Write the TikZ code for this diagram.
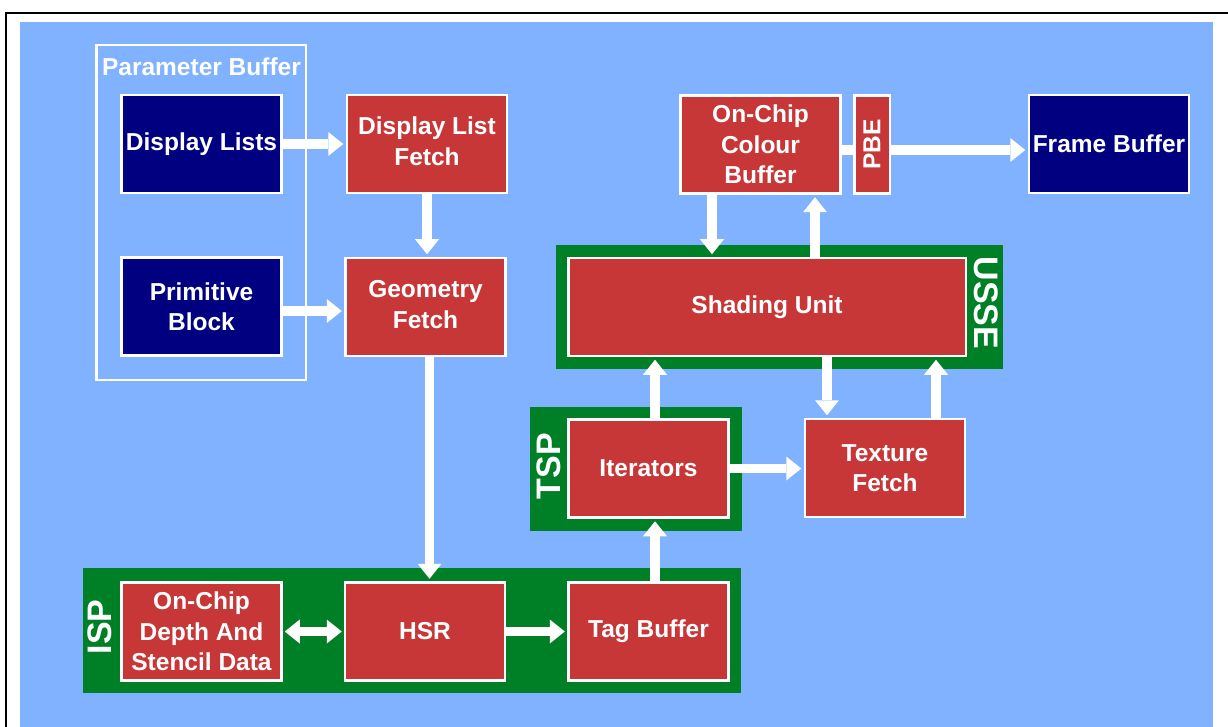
\documentclass[tikz,border=0pt]{standalone}
\usepackage{fontspec}
\usepackage{graphicx}
\setmainfont{Liberation Sans}
\usetikzlibrary{arrows.meta}
\definecolor{sky}{HTML}{80B2FF}
\definecolor{brick}{HTML}{C83737}
\definecolor{navyblk}{HTML}{000080}
\definecolor{leaf}{HTML}{008026}

\begin{document}
\begin{tikzpicture}[x=1pt,y=-1pt,
  lbl/.style={text=white, font=\bfseries\fontsize{24.5}{30.5}\selectfont, align=center, inner sep=0pt},
  grouplbl/.style={lbl, font=\bfseries\fontsize{34}{40}\selectfont},
  blockbox/.style={lbl, draw=white, line width=2.5pt, minimum width=160pt, minimum height=98pt},
  stage/.style={blockbox, fill=brick},
  mem/.style={blockbox, fill=navyblk},
  group/.style={fill=leaf, inner sep=0pt},
  flow/.style={draw=white, line width=9.5pt, -{Triangle[width=24pt,length=15pt,line width=0pt]}, shorten >=2.5pt},
  twoway/.style={draw=white, line width=9.5pt, {Triangle[width=24pt,length=15pt,line width=0pt]}-{Triangle[width=24pt,length=15pt,line width=0pt]}, shorten >=2pt, shorten <=2pt},
  link/.style={draw=white, line width=9.5pt}]
\useasboundingbox (0,0) rectangle (1228,727);

% page, frame and backdrop
\fill[white] (0,0) rectangle (1228,727);
\draw[black, line width=2pt] (6,727) -- (6,13) -- (1228,13);
\fill[sky] (20,22) rectangle (1213,727);

% parameter buffer outline
\node[draw=white, line width=2.5pt, minimum width=209.5pt, minimum height=334.5pt, inner sep=0pt] (pbuf) at (201,212.5) {};
\node[lbl] (pbuftitle) at (201.5,67) {Parameter Buffer};

% processing groups
\node[group, minimum width=658pt, minimum height=125pt] (isp) at (412,630.5) {};
\node[group, minimum width=212pt, minimum height=124pt] (tsp) at (636,469) {};
\node[group, minimum width=447pt, minimum height=124pt] (usse) at (779.5,307) {};
\node[grouplbl, rotate=90] (isplbl) at (100,627) {ISP};
\node[grouplbl, rotate=90] (tsplbl) at (548.5,466) {TSP};
\node[grouplbl, rotate=-90] (usselbl) at (986,303) {USSE};

% blocks
\node[mem] (dl) at (201.5,144) {Display Lists};
\node[mem] (pb) at (201.5,306.5) {Primitive\\Block};
\node[stage] (dlf) at (427,144) {\raisebox{2.5pt}{\begin{tabular}{@{}c@{}}Display List\\Fetch\end{tabular}}};
\node[stage] (gf) at (425.5,307) {\raisebox{2.5pt}{\begin{tabular}{@{}c@{}}Geometry\\Fetch\end{tabular}}};
\node[stage] (depth) at (201.5,631.5) {On-Chip\\Depth And\\Stencil Data};
\node[stage] (hsr) at (425,631.5) {HSR};
\node[stage] (tag) at (648.5,631.5) {Tag Buffer};
\node[stage] (it) at (648.5,468.5) {Iterators};
\node[stage] (tex) at (885,468) {Texture\\Fetch};
\node[stage, minimum width=397.5pt] (su) at (767,307) {Shading Unit};
\node[stage] (cb) at (760.5,144.5) {On-Chip\\Colour\\Buffer};
\node[stage, minimum width=35.5pt] (pbe) at (872,144.5) {\rotatebox{90}{PBE}};
\node[mem] (fb) at (1109,144) {Frame Buffer};

% helper points for offset connectors
\coordinate (pbout) at ([yshift=-4.5pt]pb.east);
\coordinate (gfout) at ([xshift=4pt]gf.south);
\coordinate (tagout) at ([xshift=6.5pt]tag.north);
\coordinate (itin) at ([xshift=6.5pt]it.south);
\coordinate (itout) at ([xshift=6.5pt]it.north);
\coordinate (texin) at ([xshift=-58pt]tex.north);
\coordinate (texout) at ([xshift=51pt]tex.north);
\coordinate (cbout) at ([xshift=-48.5pt]cb.south);
\coordinate (cbin) at ([xshift=54.5pt]cb.south);
\coordinate (cbside) at ([yshift=-5.5pt]cb.east);

% data flow
\draw[flow] (dl) -- (dlf);
\draw[flow] (dlf.south) -- (dlf.south |- gf.north);
\draw[flow] (pbout) -- (pbout -| gf.west);
\draw[flow] (gfout) -- (gfout |- hsr.north);
\draw[twoway] (depth) -- (hsr);
\draw[flow] (hsr) -- (tag);
\draw[flow] (tagout) -- (itin);
\draw[flow] (itout) -- (itout |- su.south);
\draw[flow] (it.east) -- (it.east -| tex.west);
\draw[flow] (texin |- su.south) -- (texin);
\draw[flow] (texout) -- (texout |- su.south);
\draw[flow] (cbout) -- (cbout |- su.north);
\draw[flow] (cbin |- su.north) -- (cbin);
\draw[link] (cbside) -- (cbside -| pbe.west);
\draw[flow] (cbside -| pbe.east) -- (cbside -| fb.west);
\end{tikzpicture}
\end{document}
